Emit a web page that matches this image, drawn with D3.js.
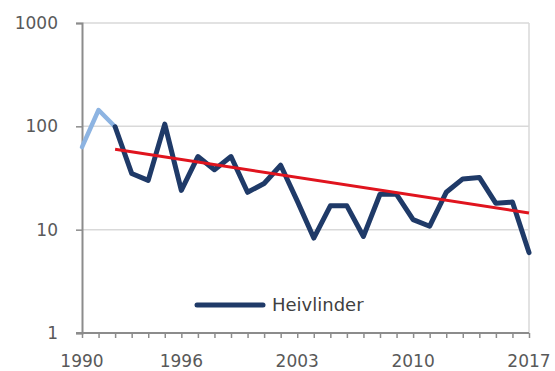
<!DOCTYPE html>
<html>
<head>
<meta charset="utf-8">
<script src="https://cdn.jsdelivr.net/npm/d3@7"></script>
<style>
  html, body { margin: 0; padding: 0; background: #fff; }
  svg { display: block; }
</style>
</head>
<body>
<svg id="chart" width="555" height="371"></svg>
<script>
// ---- data ----
const years = [1990,1991,1992,1993,1994,1995,1996,1997,1998,1999,2000,2001,2002,2003,
               2004,2005,2006,2007,2008,2009,2010,2011,2012,2013,2014,2015,2016,2017];
const counts = [63,144,99,35,30,105,24,51,38,51,23,28,42,19,
                8.3,17,17,8.6,22,22,12.5,10.8,23,31,32,18,18.5,6];
const firstMainYear = 1992;            // light-blue segment before, dark-blue from here
const trendYears = [1992, 2017];
const trendValues = [60, 14.5];
const xTickYears = [1990, 1996, 2003, 2010, 2017];
const yTickValues = [1, 10, 100, 1000];
const seriesName = "Heivlinder";

// ---- layout ----
const svg = d3.select("#chart");
const plotL = 82, plotR = 529, plotT = 23, plotB = 333;
const x = d3.scaleLinear().domain([1990, 2017]).range([plotL, plotR]);
const y = d3.scaleLog().domain([1, 1000]).range([plotB, plotT]);
const font = "'DejaVu Sans', Verdana, sans-serif";

// gridlines
svg.append("g")
  .selectAll("line").data(yTickValues.filter(v => v > 1)).join("line")
  .attr("x1", plotL).attr("x2", plotR)
  .attr("y1", d => y(d)).attr("y2", d => y(d))
  .attr("stroke", "#d9d9d9").attr("stroke-width", 1.5);

// right border
svg.append("line")
  .attr("x1", plotR).attr("x2", plotR).attr("y1", plotT).attr("y2", plotB)
  .attr("stroke", "#d9d9d9").attr("stroke-width", 1.5);

// y axis
const yAxis = d3.axisLeft(y).tickValues(yTickValues).tickFormat(d3.format("d"))
  .tickSize(6).tickPadding(18);
const gy = svg.append("g").attr("transform", `translate(${plotL},0)`).call(yAxis);
gy.select(".domain").attr("stroke", "#8c8c8c").attr("stroke-width", 2);
gy.selectAll(".tick line").attr("stroke", "#8c8c8c").attr("stroke-width", 1.5);
gy.selectAll(".tick text").attr("font-family", font).attr("font-size", 17)
  .attr("fill", "#595959");

// x axis
const xAxis = d3.axisBottom(x).tickValues(years).tickSize(5).tickFormat("");
const gx = svg.append("g").attr("transform", `translate(0,${plotB})`).call(xAxis);
gx.select(".domain").attr("stroke", "#8c8c8c").attr("stroke-width", 2)
  .attr("d", `M${plotL - 6},0H${plotR}`);
gx.selectAll(".tick line").attr("stroke", "#8c8c8c").attr("stroke-width", 1.5);
gx.append("g").selectAll("text").data(xTickYears).join("text")
  .attr("x", d => x(d)).attr("y", 34)
  .attr("text-anchor", "middle")
  .attr("font-family", font).attr("font-size", 17).attr("fill", "#595959")
  .text(d => d);

// series
const data = years.map((yr, i) => ({ year: yr, value: counts[i] }));
const line = d3.line().x(d => x(d.year)).y(d => y(d.value));

svg.append("path")
  .datum(data.filter(d => d.year <= firstMainYear))
  .attr("d", line).attr("fill", "none")
  .attr("stroke", "#8db4e2").attr("stroke-width", 4.5)
  .attr("stroke-linejoin", "round").attr("stroke-linecap", "round");

svg.append("path")
  .datum(data.filter(d => d.year >= firstMainYear))
  .attr("d", line).attr("fill", "none")
  .attr("stroke", "#1f3a68").attr("stroke-width", 5)
  .attr("stroke-linejoin", "round").attr("stroke-linecap", "round");

// trend line
const trend = trendYears.map((yr, i) => ({ year: yr, value: trendValues[i] }));
svg.append("path")
  .datum(trend)
  .attr("d", line).attr("fill", "none")
  .attr("stroke", "#e0141e").attr("stroke-width", 3);

// legend
const lg = svg.append("g");
lg.append("line").attr("x1", 197).attr("x2", 263).attr("y1", 305).attr("y2", 305)
  .attr("stroke", "#1f3a68").attr("stroke-width", 5).attr("stroke-linecap", "round");
lg.append("text").attr("x", 272).attr("y", 311)
  .attr("font-family", font).attr("font-size", 18).attr("fill", "#404040")
  .text(seriesName);
</script>
</body>
</html>
